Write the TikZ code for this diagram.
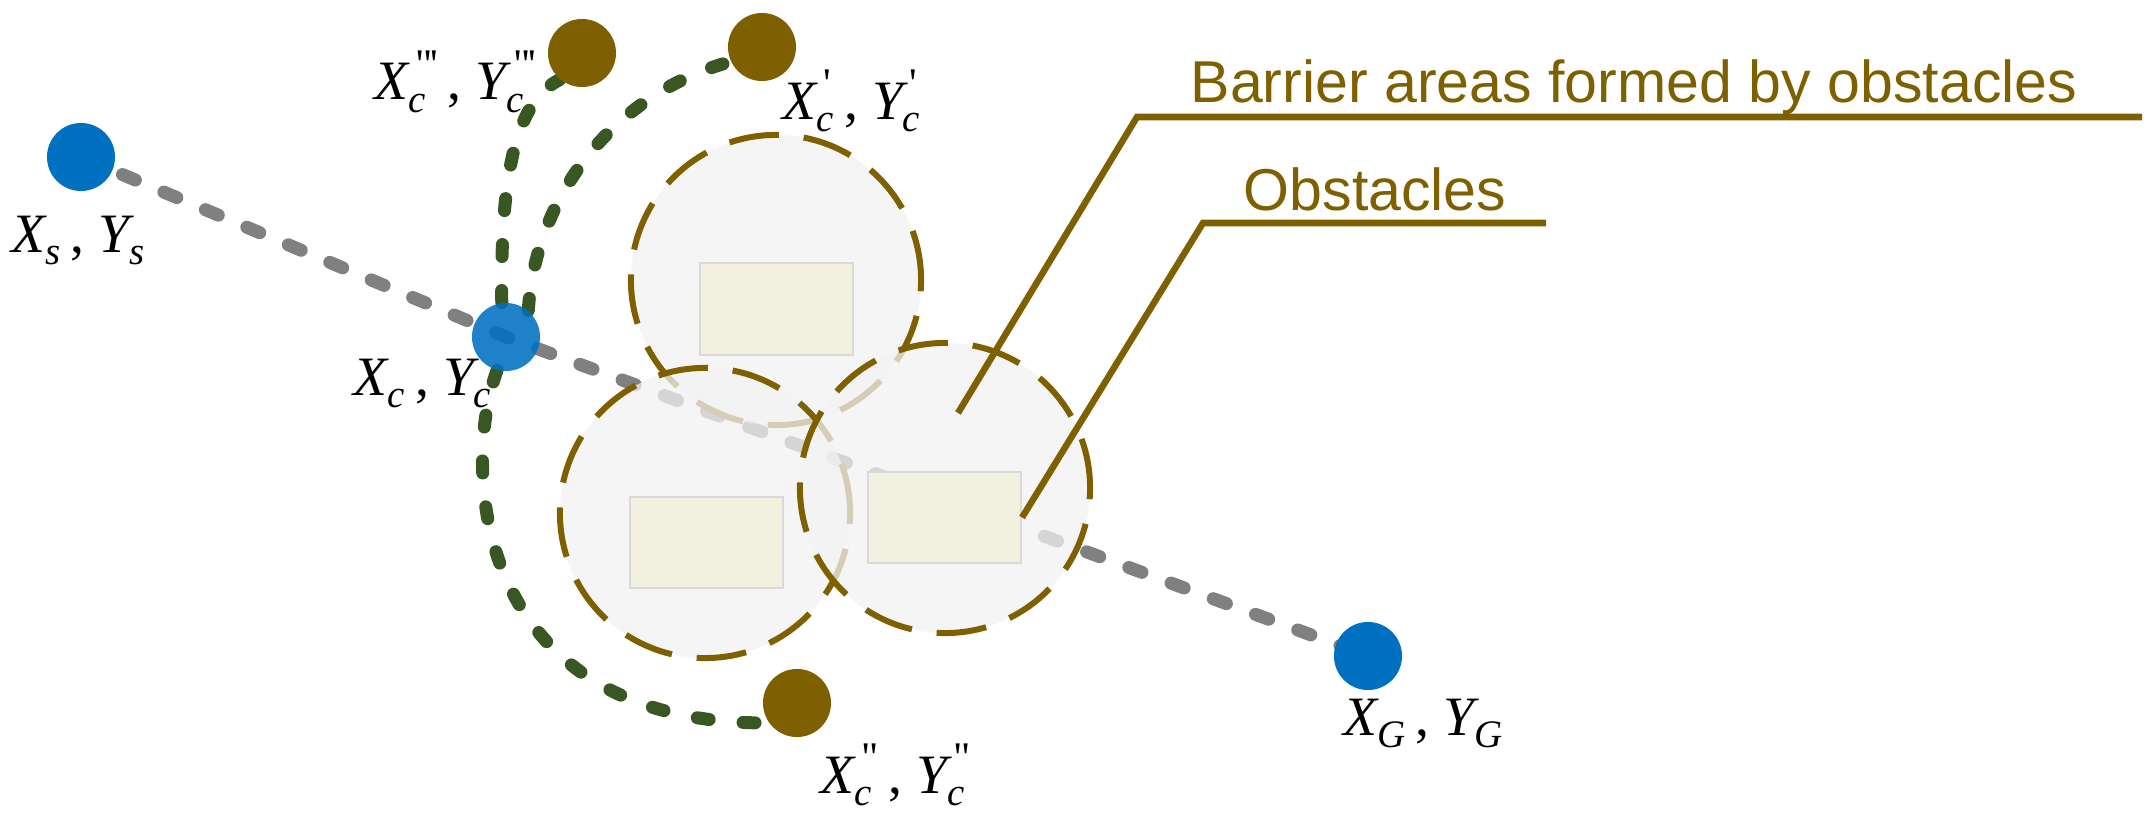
\documentclass[tikz,border=0pt]{standalone}
\usepackage{fontspec}
\usepackage{amsmath}
\setmainfont{Liberation Serif}
\newfontfamily\labsans{Liberation Sans}
\usetikzlibrary{backgrounds}
\definecolor{ptblue}{HTML}{0070C0}
\definecolor{ptbrown}{HTML}{7F6000}
\definecolor{pathgreen}{HTML}{385723}
\definecolor{linegray}{HTML}{808080}
\definecolor{zonefill}{HTML}{F2F2F2}
\definecolor{obsfill}{HTML}{F2F0DF}
\definecolor{obsedge}{HTML}{D9D9D9}
\newcommand{\mk}[1]{\text{\fontsize{12}{12}\selectfont #1}}
\newcommand{\sq}{\mk{\textquotesingle}}
\newcommand{\dq}{\mk{\textquotedbl}}
\newcommand{\tq}{\mk{\textquotedbl\kern-0.05em\textquotesingle}}
% label: X_{#1}^{#2}, Y_{#1}^{#2}
\newcommand{\plab}[2]{$\textit{X}_{\textit{#1}}^{\,#2}\,\text{,}\;\textit{Y}_{\textit{#1}}^{\,#2}$}
\begin{document}
\begin{tikzpicture}[x=0.01cm,y=-0.01cm,
  graypath/.style={draw=linegray, line width=0.13cm, line cap=round, dash pattern=on 0.14cm off 0.31cm},
  greenpath/.style={draw=pathgreen, line width=0.13cm, line cap=round, dash pattern=on 0.12cm off 0.34cm},
  zone/.style={circle, minimum size=2.9cm, inner sep=0pt, draw=ptbrown, line width=0.06cm, dash pattern=on 0.5cm off 0.25cm, fill=zonefill, fill opacity=0.75},
  obstacle/.style={rectangle, minimum width=1.53cm, minimum height=0.91cm, inner sep=0pt, fill=obsfill, draw=obsedge, line width=0.02cm},
  bluept/.style={circle, inner sep=0pt, minimum size=0.68cm, fill=ptblue},
  brownpt/.style={circle, inner sep=0pt, minimum size=0.68cm, fill=ptbrown},
  lab/.style={font=\fontsize{15.8}{18}\selectfont, inner sep=0pt, anchor=base west},
  callout/.style={font=\labsans\fontsize{16.8}{20}\selectfont, text=ptbrown, inner sep=0pt, anchor=base west},
  leader/.style={draw=ptbrown, line width=0.065cm}
]
\useasboundingbox (0,0) rectangle (2153,824);
% barrier zones
\node[zone] (z1) at (776,280) {};
\node[zone] (z2) at (705,513) {};
\node[zone] (z3) at (945,488) {};
% obstacles
\node[obstacle] (o1) at (776.5,309) {};
\node[obstacle] (o2) at (706.5,542.5) {};
\node[obstacle] (o3) at (944.5,517.5) {};
% labels
\node[lab] (ls) at (11,252) {\plab{s}{}};
\node[lab] (lc) at (353,395) {\plab{c}{}};
\node[lab] (lg) at (1343,735) {\plab{G}{}};
\node[lab] (l3) at (374,100) {\plab{c}{\tq}};
\node[lab] (l1) at (782,119) {\plab{c}{\sq}};
\node[lab] (l2) at (820,793) {\plab{c}{\dq}};
% points
\node[bluept] (s) at (81,157) {};
\node[bluept, fill opacity=0.88] (c) at (506,337) {};
\node[bluept] (g) at (1368,656) {};
\node[brownpt] (c3) at (582,53) {};
\node[brownpt] (c1) at (762,47) {};
\node[brownpt] (c2) at (797,703) {};
% paths under everything
\begin{scope}[on background layer]
\draw[graypath] (s.center) -- (c.center) -- (g.center);
\draw[greenpath] (c.97) .. controls (500,160) and (520,100) .. (c3.230);
\draw[greenpath] (c.50) .. controls (535,200) and (610,95) .. (c1.205);
\draw[greenpath] (c.255) .. controls (460,470) and (475,725) .. (c2.215);
\end{scope}
% callouts
\coordinate (bknee) at (1137,117);
\coordinate (bend) at (2142,117);
\coordinate (bpt) at (958,413);
\draw[leader] (bpt) -- (bknee) -- (bend);
\node[callout] (btext) at (1190,102) {Barrier areas formed by obstacles};
\coordinate (oknee) at (1203,223);
\coordinate (oend) at (1546,223);
\draw[leader] (o3.east) -- (oknee) -- (oend);
\node[callout] (otext) at (1243,210) {Obstacles};
\end{tikzpicture}
\end{document}
